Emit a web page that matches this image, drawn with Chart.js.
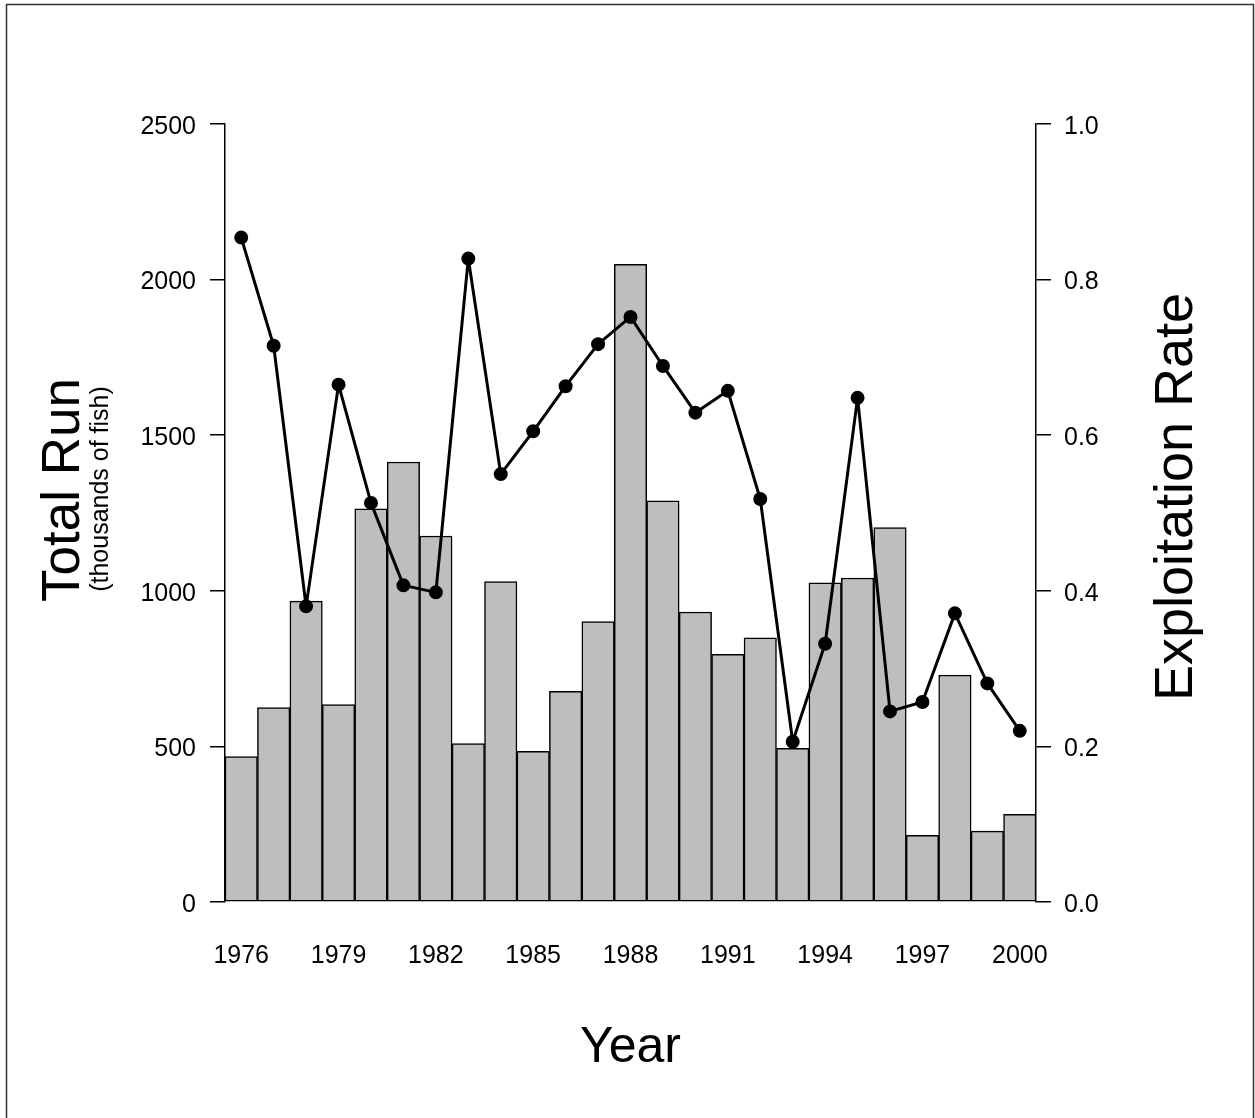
<!DOCTYPE html>
<html>
<head>
<meta charset="utf-8">
<title>Total Run and Exploitation Rate</title>
<script src="https://cdn.jsdelivr.net/npm/chart.js@4"></script>
<style>
  body { margin: 0; background: #fff; }
  #runChart { display: block; }
</style>
</head>
<body>
<canvas id="runChart" width="1255" height="1118"></canvas>
<script>
// years on the x axis
const years = ['1976','1977','1978','1979','1980','1981','1982','1983','1984','1985','1986','1987','1988',
               '1989','1990','1991','1992','1993','1994','1995','1996','1997','1998','1999','2000'];
// only these get a label
const yearTicks = ['1976','1979','1982','1985','1988','1991','1994','1997','2000'];

// total run, thousands of fish (bars)
const totalRun = [467, 625, 967, 634, 1263, 1414, 1176, 509, 1030, 484, 677, 901, 2049,
                  1289, 932, 796, 849, 494, 1026, 1041, 1203, 214, 729, 228, 282];

// exploitation rate (line)
const exploitRate = [0.854, 0.715, 0.380, 0.665, 0.513, 0.407, 0.398, 0.827, 0.550, 0.605, 0.663, 0.717, 0.752,
                     0.689, 0.629, 0.657, 0.518, 0.206, 0.332, 0.648, 0.245, 0.257, 0.371, 0.281, 0.220];

const FONT = '"Liberation Sans", Arial, Helvetica, sans-serif';
Chart.defaults.font.family = FONT;
Chart.defaults.color = '#000';

function vText(ctx, txt, x, y, font) {
    ctx.save();
    ctx.translate(x, y);
    ctx.rotate(-Math.PI / 2);
    ctx.font = font;
    ctx.fillText(txt, 0, 0);
    ctx.restore();
}

// axis titles + the frame round the figure
const titlesPlugin = {
    id: 'titles',
    afterDraw(chart) {
        const ctx = chart.ctx;
        const a = chart.chartArea;
        ctx.save();
        ctx.fillStyle = '#000';
        ctx.textAlign = 'center';
        ctx.textBaseline = 'alphabetic';
        ctx.font = '50px ' + FONT;
        ctx.fillText('Year', (a.left + a.right) / 2, 1062);
        vText(ctx, 'Total Run', 79, 490, '53px ' + FONT);
        vText(ctx, '(thousands of fish)', 108, 489, '25px ' + FONT);
        vText(ctx, 'Exploitation Rate', 1192, 497, '54px ' + FONT);
        // frame
        ctx.strokeStyle = '#333';
        ctx.lineWidth = 1.5;
        ctx.strokeRect(6.5, 4.5, 1247, 1200);
        ctx.restore();
    }
};

new Chart(document.getElementById('runChart'), {
    data: {
        labels: years,
        datasets: [
            {
                type: 'line',
                label: 'Exploitation Rate',
                data: exploitRate,
                yAxisID: 'y1',
                borderColor: '#000',
                borderWidth: 3,
                borderJoinStyle: 'round',
                borderCapStyle: 'round',
                pointRadius: 5.5,
                pointBackgroundColor: '#000',
                pointBorderColor: '#000',
                tension: 0,
                order: 0
            },
            {
                type: 'bar',
                label: 'Total Run',
                data: totalRun,
                yAxisID: 'y',
                backgroundColor: '#bebebe',
                borderColor: '#000',
                borderWidth: 1.5,
                borderSkipped: false,
                barPercentage: 1,
                categoryPercentage: 1,
                order: 1
            }
        ]
    },
    options: {
        responsive: false,
        devicePixelRatio: 1,
        animation: false,
        layout: { padding: { top: 124, left: 0, right: 0, bottom: 0 } },
        plugins: {
            legend: { display: false },
            tooltip: { enabled: false }
        },
        scales: {
            x: {
                offset: true,
                grid: { display: false },
                border: { display: false },
                ticks: {
                    autoSkip: false,
                    maxRotation: 0,
                    padding: 31,
                    font: { size: 25 },
                    callback: function (v, i) {
                        const lab = this.getLabelForValue(v);
                        return yearTicks.includes(lab) ? lab : '';
                    }
                },
                afterFit: (s) => { s.height = 216; }
            },
            y: {
                position: 'left',
                min: 0,
                max: 2500,
                grid: { drawOnChartArea: false, tickLength: 15, color: '#000', lineWidth: 1.5 },
                border: { display: true, color: '#000', width: 1.5 },
                ticks: { stepSize: 500, padding: 14, labelOffset: 3, font: { size: 25 }, callback: (v) => String(v) },
                afterFit: (s) => { s.width = 225; }
            },
            y1: {
                position: 'right',
                min: 0,
                max: 1,
                grid: { drawOnChartArea: false, tickLength: 15, color: '#000', lineWidth: 1.5 },
                border: { display: true, color: '#000', width: 1.5 },
                ticks: { stepSize: 0.2, padding: 13, labelOffset: 3, font: { size: 25 }, callback: (v) => v.toFixed(1) },
                afterFit: (s) => { s.width = 219; }
            }
        }
    },
    plugins: [titlesPlugin]
});
</script>
</body>
</html>
